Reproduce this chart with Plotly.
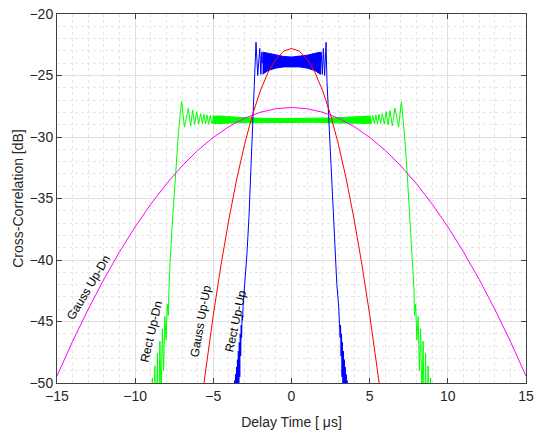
import plotly.graph_objects as go

# ---- Gaussian-weighted chirps (smooth parabolic in dB) ----
gauss_updn_x = [-15, -14, -13, -12, -11, -10, -9, -8, -7, -6, -5, -4, -3, -2, -1, 0,
                1, 2, 3, 4, 5, 6, 7, 8, 9, 10, 11, 12, 13, 14, 15]
gauss_updn_y = [-49.43, -46.61, -43.99, -41.57, -39.34, -37.30, -35.46, -33.81, -32.35,
                -31.09, -30.03, -29.15, -28.47, -27.99, -27.70, -27.60,
                -27.70, -27.99, -28.47, -29.15, -30.03, -31.09, -32.35, -33.81, -35.46,
                -37.30, -39.34, -41.57, -43.99, -46.61, -49.43]

gauss_upup_x = [-5.7, -5.5, -5.0, -4.5, -4.0, -3.5, -3.0, -2.5, -2.0, -1.5, -1.0, -0.5, 0,
                0.5, 1.0, 1.5, 2.0, 2.5, 3.0, 3.5, 4.0, 4.5, 5.0, 5.5, 5.7]
gauss_upup_y = [-50.94, -49.00, -44.45, -40.34, -36.66, -33.41, -30.59, -28.21, -26.26,
                -24.75, -23.67, -23.02, -22.80,
                -23.02, -23.67, -24.75, -26.26, -28.21, -30.59, -33.41, -36.66, -40.34,
                -44.45, -49.00, -50.94]

# ---- Rectangular chirp, up-down: edges with sidelobes + rippled plateau ----
rect_updn_left_x = [-9.06, -8.98, -8.90, -8.82, -8.74, -8.66, -8.58, -8.50, -8.42, -8.34,
                    -8.26, -8.18, -8.10, -8.02, -7.95, -7.88,
                    -7.84, -7.77, -7.60, -7.41, -7.25, -7.13, -7.03, -6.85, -6.60, -6.45,
                    -6.32, -6.20, -6.07, -5.94, -5.81, -5.70, -5.60, -5.50, -5.40, -5.30,
                    -5.20, -5.10, -5.00]
rect_updn_left_y = [-50.6, -60.0, -49.6, -58.0, -48.6, -56.0, -47.6, -54.0, -46.6, -51.5,
                    -45.6, -49.0, -44.6, -46.5, -43.6, -44.5,
                    -42.5, -40.2, -36.5, -32.7, -30.0, -28.3, -27.1, -29.2, -27.68, -29.1,
                    -27.8, -29.0, -27.95, -28.95, -28.1, -28.9, -28.15, -28.95, -28.2,
                    -28.95, -28.25, -28.9, -28.6]
rect_updn_right_x = [5.00, 5.10, 5.20, 5.30, 5.40, 5.50, 5.60, 5.70, 5.81, 5.94, 6.05, 6.18,
                     6.30, 6.45, 6.62, 6.85, 7.03,
                     7.12, 7.24, 7.40, 7.55, 7.75, 7.84,
                     7.87, 7.94, 8.02, 8.10, 8.18, 8.26, 8.34, 8.42, 8.50, 8.58, 8.66, 8.74,
                     8.82, 8.90, 8.98, 9.06]
rect_updn_right_y = [-28.6, -28.9, -28.25, -28.95, -28.2, -28.95, -28.15, -28.9, -28.1,
                     -28.95, -27.95, -29.0, -27.85, -29.1, -27.65, -29.2, -27.14,
                     -28.3, -30.0, -33.0, -36.5, -40.2, -42.5,
                     -44.5, -43.6, -46.5, -44.6, -49.0, -45.6, -51.5, -46.6, -54.0, -47.6,
                     -56.0, -48.6, -58.0, -49.6, -60.0, -50.6]
rect_updn_band_x = [-5.05, -4.5, -3.5, -2.5, -1.5, 0, 1.5, 2.5, 3.5, 4.5, 5.05]
rect_updn_band_hi = [-28.3, -28.3, -28.4, -28.45, -28.5, -28.5, -28.5, -28.45, -28.4,
                     -28.3, -28.3]
rect_updn_band_lo = [-28.9, -28.9, -28.85, -28.85, -28.8, -28.8, -28.8, -28.85, -28.85,
                     -28.9, -28.9]

# ---- Rectangular chirp, up-up ----
rect_upup_left_x = [-3.76, -3.73, -3.70, -3.67, -3.64, -3.61, -3.58, -3.55, -3.52, -3.49,
                    -3.46, -3.43, -3.40, -3.37, -3.34, -3.31, -3.28, -3.25, -3.22, -3.19,
                    -3.16, -3.13, -3.10,
                    -2.98, -2.85, -2.72, -2.62, -2.52, -2.42, -2.33, -2.27,
                    -2.16, -2.03, -1.96, -1.90, -1.85]
rect_upup_left_y = [-50.8, -61.0, -50.3, -60.0, -49.8, -59.0, -49.3, -57.5, -48.7, -55.5,
                    -48.1, -53.5, -47.4, -51.5, -46.7, -49.5, -46.0, -47.8, -45.3, -46.3,
                    -44.6, -44.9, -43.8,
                    -42.0, -39.5, -36.5, -33.5, -30.5, -28.0, -25.5, -22.3,
                    -25.0, -22.8, -24.9, -23.1, -24.0]
rect_upup_right_x = [1.85, 1.90, 1.97, 2.04, 2.12, 2.21, 2.27, 2.36, 2.46, 2.56, 2.66, 2.78,
                     2.90,
                     3.02, 3.05, 3.08, 3.11, 3.14, 3.17, 3.20, 3.23, 3.26, 3.29, 3.32, 3.35,
                     3.38, 3.41, 3.44, 3.47, 3.50, 3.53, 3.56, 3.59, 3.62, 3.65, 3.68]
rect_upup_right_y = [-24.0, -23.1, -24.9, -22.8, -25.0, -22.3, -25.5, -28.0, -30.5, -33.5,
                     -36.5, -39.5, -42.0,
                     -43.8, -44.9, -44.6, -46.3, -45.3, -47.8, -46.0, -49.5, -46.7, -51.5,
                     -47.4, -53.5, -48.1, -55.5, -48.7, -57.5, -49.3, -59.0, -49.8, -60.0,
                     -50.3, -61.0, -50.8]
rect_upup_band_x = [-1.85, -1.5, -1.0, -0.5, 0, 0.5, 1.0, 1.5, 1.85]
rect_upup_band_hi = [-23.1, -23.2, -23.35, -23.45, -23.5, -23.45, -23.35, -23.2, -23.1]
rect_upup_band_lo = [-24.9, -24.6, -24.4, -24.3, -24.3, -24.3, -24.4, -24.6, -24.9]

# curve labels: text, x, y, angle
label_text = ["Gauss Up-Dn", "Rect Up-Dn", "Gauss Up-Up", "Rect Up-Up"]
label_x = [-12.96, -8.94, -5.85, -3.61]
label_y = [-42.2, -45.8, -45.0, -45.0]
label_angle = [-59, -77, -80, -78]

GREEN, BLUE, MAGENTA, RED = "#00ff00", "#0000ff", "#ff00ff", "#ff0000"

fig = go.Figure()


def line(x, y, color):
    fig.add_trace(go.Scatter(x=x, y=y, mode="lines", showlegend=False, hoverinfo="skip",
                             line=dict(color=color, width=1)))


def band(x, hi, lo, color):
    fig.add_trace(go.Scatter(x=list(x) + list(x)[::-1], y=list(hi) + list(lo)[::-1],
                             mode="lines", fill="toself", fillcolor=color,
                             showlegend=False, hoverinfo="skip",
                             line=dict(color=color, width=1)))


line(rect_updn_left_x, rect_updn_left_y, GREEN)
band(rect_updn_band_x, rect_updn_band_hi, rect_updn_band_lo, GREEN)
line(rect_updn_right_x, rect_updn_right_y, GREEN)

line(rect_upup_left_x, rect_upup_left_y, BLUE)
band(rect_upup_band_x, rect_upup_band_hi, rect_upup_band_lo, BLUE)
line(rect_upup_right_x, rect_upup_right_y, BLUE)

line(gauss_updn_x, gauss_updn_y, MAGENTA)
line(gauss_upup_x, gauss_upup_y, RED)

for t, x, y, a in zip(label_text, label_x, label_y, label_angle):
    fig.add_annotation(x=x, y=y, text=t, textangle=a, showarrow=False,
                       font=dict(size=12, color="#000000"))

axis_common = dict(
    showline=True, linecolor="#404040", linewidth=1, mirror="ticks",
    ticks="inside", ticklen=5, tickcolor="#404040",
    showgrid=True, gridcolor="#e0e0e0", gridwidth=1, zeroline=False,
    minor=dict(dtick=1, showgrid=True, gridcolor="#e6e6e6", griddash="dot", ticks=""),
    tickfont=dict(size=14, color="#262626"),
    automargin=False,
)

fig.update_xaxes(range=[-15, 15], tickvals=[-15, -10, -5, 0, 5, 10, 15],
                 title=dict(text="Delay Time [ μs]", font=dict(size=14, color="#262626"),
                            standoff=14),
                 **axis_common)
fig.update_yaxes(range=[-50, -20], tickvals=[-50, -45, -40, -35, -30, -25, -20],
                 title=dict(text="Cross-Correlation [dB]", font=dict(size=14, color="#262626"),
                            standoff=2),
                 **axis_common)

fig.update_layout(
    width=536, height=434,
    margin=dict(l=57, r=10, t=14, b=51),
    paper_bgcolor="white", plot_bgcolor="white",
    font=dict(family="Liberation Sans, Arial, sans-serif", color="#262626"),
)

fig.write_html("out.html")
